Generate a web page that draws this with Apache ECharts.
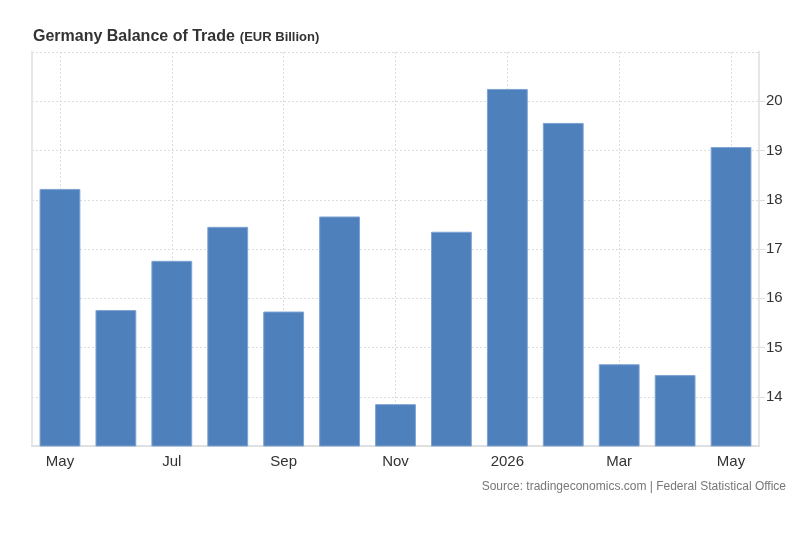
<!DOCTYPE html>
<html>
<head>
<meta charset="utf-8">
<script src="https://cdn.jsdelivr.net/npm/echarts@6/dist/echarts.min.js"></script>
<style>
html,body{margin:0;padding:0;background:#fff;}
#chart{width:800px;height:546px;}
</style>
</head>
<body>
<div id="chart"></div>
<script>
const months = ['2025-05','2025-06','2025-07','2025-08','2025-09','2025-10','2025-11','2025-12','2026-01','2026-02','2026-03','2026-04','2026-05'];
const monthNames = ['Jan','Feb','Mar','Apr','May','Jun','Jul','Aug','Sep','Oct','Nov','Dec'];
const balance = [18.22, 15.76, 16.76, 17.45, 15.73, 17.66, 13.85, 17.35, 20.25, 19.56, 14.66, 14.44, 19.07];
const yMin = 13, yMax = 21, yStep = 1;

function monthLabel(v){
  const p = v.split('-');
  return p[1] === '01' ? p[0] : monthNames[+p[1]-1];
}

const FONT = 'Arial, Liberation Sans, sans-serif';
const chart = echarts.init(document.getElementById('chart'));
chart.setOption({
  animation: false,
  backgroundColor: '#fff',
  title: {
    text: '{a|Germany Balance of Trade} {b|(EUR Billion)}',
    left: 28, top: 23,
    textStyle: {
      rich: {
        a: {fontFamily: FONT, fontSize: 16, fontWeight: 'bold', color: '#333'},
        b: {fontFamily: FONT, fontSize: 13, fontWeight: 'bold', color: '#333'}
      }
    }
  },
  graphic: [{
    type: 'text', right: 14, top: 481,
    style: {text: 'Source: tradingeconomics.com | Federal Statistical Office', fontFamily: FONT, fontSize: 12, fill: '#777'}
  }],
  grid: {left: 32, right: 41, top: 52, bottom: 100, containLabel: false},
  xAxis: {
    type: 'category',
    data: months,
    axisLine: {show: true, lineStyle: {color: '#e0e0e0', width: 2}},
    axisTick: {show: false},
    splitLine: {show: false},
    axisLabel: {
      interval: 1, color: '#333', fontSize: 15, margin: 8,
      fontFamily: FONT,
      formatter: monthLabel
    }
  },
  yAxis: [{
    type: 'value', position: 'right', min: yMin, max: yMax, interval: yStep,
    axisLine: {show: true, lineStyle: {color: '#e6e6e6', width: 2}},
    axisTick: {show: true, length: 6, lineStyle: {color: '#ddd'}},
    axisLabel: {showMinLabel: false, showMaxLabel: false, color: '#333', fontSize: 15, margin: 7,
      fontFamily: FONT},
    splitLine: {show: true, lineStyle: {color: '#dcdcdc', type: [2, 2], width: 1}}
  }, {
    type: 'value', position: 'left', min: yMin, max: yMax, interval: yStep,
    axisLine: {show: true, lineStyle: {color: '#e6e6e6', width: 2}},
    axisTick: {show: false}, axisLabel: {show: false}, splitLine: {show: false}
  }],
  series: [{
    type: 'bar',
    data: balance,
    barWidth: '73%',
    itemStyle: {color: '#4e80bc', borderColor: '#7ea3d2', borderWidth: 1},
    markLine: {
      z: 1, silent: true, symbol: 'none', label: {show: false},
      lineStyle: {color: '#dcdcdc', type: [2, 2], width: 1},
      data: months.filter((m, i) => i % 2 === 0).map(m => ({xAxis: m}))
    }
  }]
});
</script>
</body>
</html>
